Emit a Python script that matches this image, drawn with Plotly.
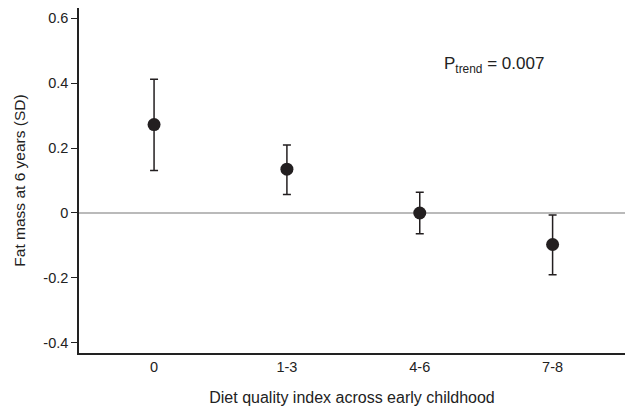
import plotly.graph_objects as go

categories = ["0", "1-3", "4-6", "7-8"]
estimates = [0.272, 0.135, 0.0, -0.097]
upper_ci = [0.412, 0.209, 0.064, -0.006]
lower_ci = [0.131, 0.057, -0.064, -0.190]
y_ticks = [-0.4, -0.2, 0, 0.2, 0.4, 0.6]
y_tick_labels = ["-0.4", "-0.2", "0", "0.2", "0.4", "0.6"]

err_plus = [u - e for u, e in zip(upper_ci, estimates)]
err_minus = [e - l for e, l in zip(estimates, lower_ci)]
xpos = list(range(len(categories)))

fig = go.Figure()
fig.add_trace(go.Scatter(
    x=xpos, y=estimates, mode="markers",
    marker=dict(size=13, color="#231f20"),
    error_y=dict(type="data", symmetric=False, array=err_plus, arrayminus=err_minus,
                 color="#231f20", thickness=1.5, width=4),
    showlegend=False,
))

fig.add_shape(type="line", xref="paper", yref="y", x0=0, x1=1, y0=0, y1=0,
              line=dict(color="#777777", width=1.2), layer="below")

fig.add_annotation(xref="x", yref="y", x=2.56, y=0.455,
                   text="P<sub>trend</sub> = 0.007", showarrow=False,
                   font=dict(size=17, color="#222222"))

fig.update_layout(
    width=625, height=407,
    margin=dict(l=79, r=0, t=8, b=54),
    paper_bgcolor="white", plot_bgcolor="white",
    font=dict(family="Liberation Sans, Arial, sans-serif", size=14.5, color="#222222"),
    xaxis=dict(range=[-0.565, 3.545], tickmode="array", tickvals=xpos, ticktext=categories,
               showline=True, linecolor="#222222", linewidth=1.5, showgrid=False,
               zeroline=False, ticks="", tickfont=dict(size=14.5),
               title=dict(text="Diet quality index across early childhood",
                          font=dict(size=16), standoff=18)),
    yaxis=dict(range=[-0.431, 0.631], tickmode="array", tickvals=y_ticks, ticktext=y_tick_labels,
               showline=True, linecolor="#222222", linewidth=1.5, showgrid=False,
               zeroline=False, ticks="outside", ticklen=6, tickcolor="#222222",
               tickfont=dict(size=14.5),
               title=dict(text="Fat mass at 6 years (SD)", font=dict(size=15.5), standoff=14)),
)

fig.write_html("out.html", config={"displayModeBar": False},
               post_script="document.body.style.margin='0';document.body.style.overflow='hidden';")
